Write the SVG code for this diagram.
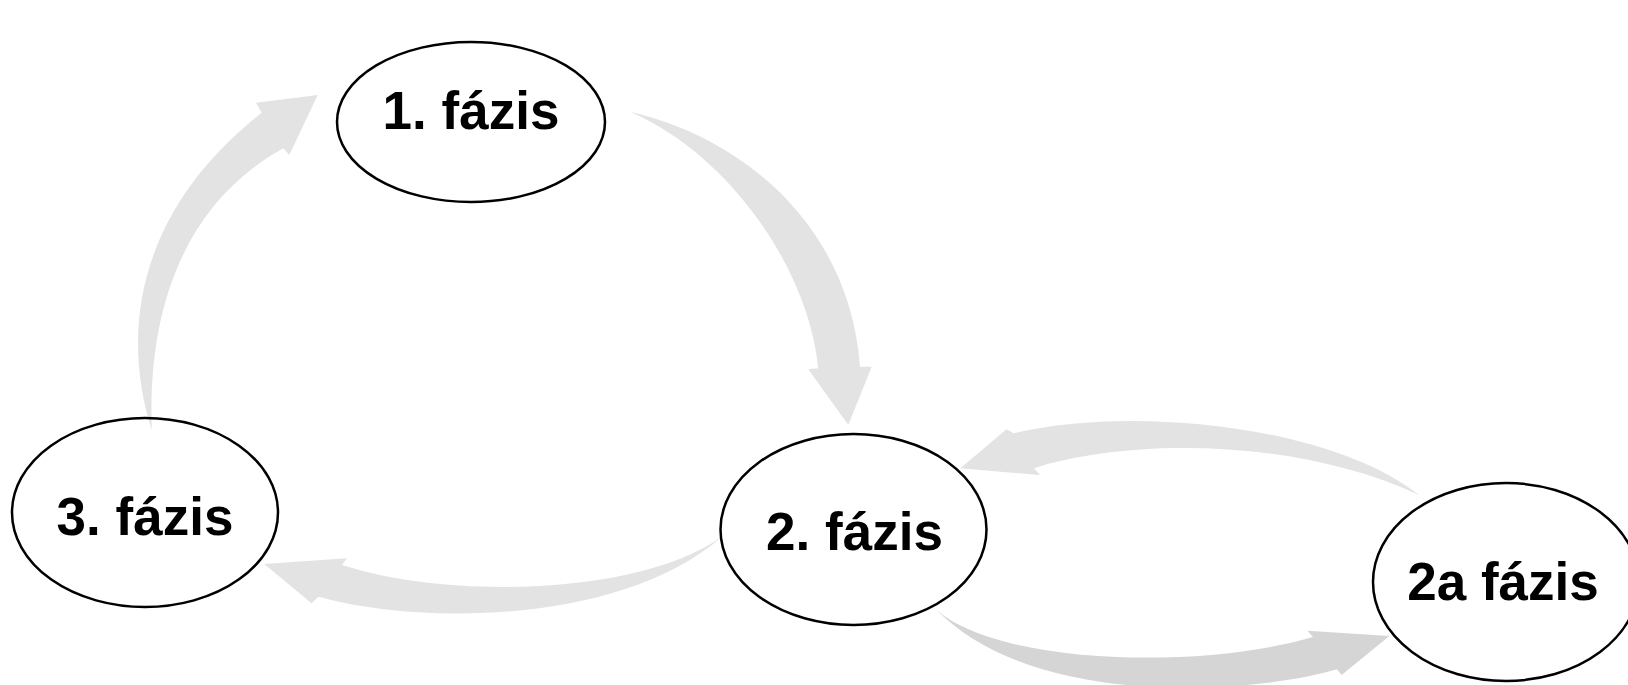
<svg xmlns="http://www.w3.org/2000/svg" width="1628" height="685" viewBox="0 0 1628 685">
  <style>
    .node { fill: none; stroke: #000; stroke-width: 2.5; }
    .lbl { font-family: "Liberation Sans", Arial, sans-serif; font-weight: bold; font-size: 53px; fill: #000; text-anchor: middle; }
    .arr { fill: #e3e3e3; stroke: none; }
    .arr2 { fill: #d5d5d5; stroke: none; }
  </style>
  <rect width="1628" height="685" fill="#fff"/>
  <g id="connectors">
    <path id="a-1-2" class="arr" d="M630,111.7 C745,138 850,228 860,366.7 L871.7,366.7 L848.3,425 L808.3,369.3 L818.3,368.3 C808,265 725,152 630,111.7 Z"/>
    <path id="a-3-1" class="arr" d="M151.8,430 C120,330 138,210 261.7,112.7 L256,102.7 L317.7,95 L289.3,155 L283.3,148.3 C190,200 147,300 151.8,430 Z"/>
    <path id="a-2-3" class="arr" d="M722,536.7 C640,595 450,600 342,565 L346.9,558.3 L264.3,564 L311.5,603.3 L318.5,596.7 C420,625 620,625 722,536.7 Z"/>
    <path id="a-2a-2" class="arr" d="M1419,495 C1330,425 1130,405 1013.6,433.3 L1006.5,429.3 L960.4,468.3 L1040,475 L1034,468.3 C1120,440 1290,435 1419,495 Z"/>
    <path id="a-2-2a" class="arr2" d="M936.7,610 C1000,665 1200,670 1313,637 L1307.3,630.7 L1389.3,636 L1341.7,675 L1336.7,669.3 C1270,690 1040,715 936.7,610 Z"/>
  </g>
  <g id="node-1">
    <ellipse class="node" cx="471" cy="122" rx="134" ry="80"/>
    <text class="lbl" x="471" y="129">1. fázis</text>
  </g>
  <g id="node-2">
    <ellipse class="node" cx="853.5" cy="529.5" rx="133" ry="95.5"/>
    <text class="lbl" x="854.5" y="550">2. fázis</text>
  </g>
  <g id="node-3">
    <ellipse class="node" cx="145" cy="512.5" rx="133" ry="94.5"/>
    <text class="lbl" x="145" y="535">3. fázis</text>
  </g>
  <g id="node-2a">
    <ellipse class="node" cx="1506" cy="582" rx="133" ry="99"/>
    <text class="lbl" x="1503" y="600">2a fázis</text>
  </g>
</svg>
